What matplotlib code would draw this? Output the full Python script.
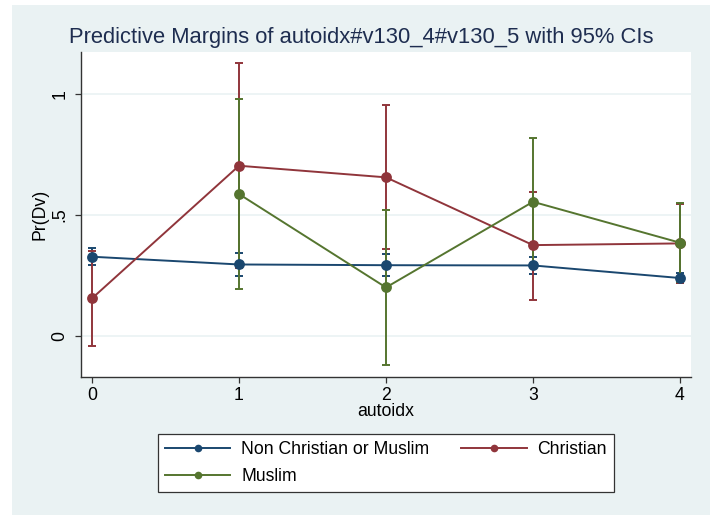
import matplotlib
matplotlib.use("Agg")
import matplotlib.pyplot as plt
from matplotlib.patches import Rectangle
from matplotlib.lines import Line2D

plt.rcParams['font.family'] = ['Liberation Sans', 'DejaVu Sans']

# Predictive margins by autoidx level for each religion group
autoidx = [0, 1, 2, 3, 4]

groups = ["Non Christian or Muslim", "Christian", "Muslim"]

margin_other = [0.328, 0.296, 0.293, 0.292, 0.240]
lower_other = [0.292, 0.249, 0.249, 0.258, 0.219]
upper_other = [0.364, 0.342, 0.338, 0.328, 0.259]

margin_christian = [0.156, 0.704, 0.656, 0.376, 0.383]
lower_christian = [-0.040, 0.281, 0.359, 0.150, 0.218]
upper_christian = [0.352, 1.127, 0.955, 0.596, 0.547]

margin_muslim = [None, 0.587, 0.201, 0.555, 0.386]
lower_muslim = [None, 0.194, -0.119, 0.289, 0.224]
upper_muslim = [None, 0.979, 0.521, 0.820, 0.548]

yticks = [0, 0.5, 1]
ytick_labels = ["0", ".5", "1"]

navy = "#1a476f"
maroon = "#90353b"
forest = "#55752f"
bluish = "#eaf2f3"

W, H = 710, 515
fs = 12.7
fig = plt.figure(figsize=(W / 100, H / 100), dpi=100, facecolor="white")

# graph region background
fig.patches.append(Rectangle((12 / W, 0), (W - 12) / W, (H - 5) / H,
                             transform=fig.transFigure, facecolor=bluish,
                             edgecolor="none", zorder=-10))

ax = fig.add_axes([81 / W, (H - 377) / H, 610 / W, 325 / H])
ax.set_facecolor("white")

series = [
    (margin_other, lower_other, upper_other, navy),
    (margin_christian, lower_christian, upper_christian, maroon),
    (margin_muslim, lower_muslim, upper_muslim, forest),
]

# confidence intervals first, then the margin lines on top
for m, lo, hi, col in series:
    xs = [x for x, v in zip(autoidx, m) if v is not None]
    los = [v for v in lo if v is not None]
    his = [v for v in hi if v is not None]
    ax.vlines(xs, los, his, color=col, linewidth=1.4, zorder=2)
    ax.hlines(los, [x - 0.028 for x in xs], [x + 0.028 for x in xs],
              color=col, linewidth=1.4, zorder=2)
    ax.hlines(his, [x - 0.028 for x in xs], [x + 0.028 for x in xs],
              color=col, linewidth=1.4, zorder=2)

for m, lo, hi, col in series:
    xs = [x for x, v in zip(autoidx, m) if v is not None]
    ms = [v for v in m if v is not None]
    ax.plot(xs, ms, color=col, linewidth=1.4, marker="o", markersize=7.8,
            markeredgewidth=0, zorder=3)

ax.set_xlim(-0.075, 4.075)
ax.set_ylim(-0.169, 1.174)
ax.set_xticks(autoidx)
ax.set_yticks(yticks)
ax.set_yticklabels(ytick_labels, rotation=90, va="center")
ax.grid(axis="y", color=bluish, linewidth=1.2, zorder=0)
ax.set_axisbelow(True)

for s in ("top", "right"):
    ax.spines[s].set_visible(False)
for s in ("left", "bottom"):
    ax.spines[s].set_color("#333333")
    ax.spines[s].set_linewidth(1.0)

ax.tick_params(axis="both", direction="out", length=4, width=0.9,
               color="#333333", labelsize=fs, labelcolor="black")
ax.tick_params(axis="y", pad=5)
ax.tick_params(axis="x", pad=3)

ax.set_xlabel("autoidx", fontsize=fs)
ax.xaxis.set_label_coords(0.5, (377 - 411) / 325)
ax.xaxis.label.set_verticalalignment("center")
ax.set_ylabel("Pr(Dv)", fontsize=fs)
ax.yaxis.set_label_coords((40 - 81) / 610, 0.5)
ax.yaxis.label.set_verticalalignment("center")

fig.text(361 / W, 1 - 37 / H,
         "Predictive Margins of autoidx#v130_4#v130_5 with 95% CIs",
         ha="center", va="center", fontsize=15.8, color="#1e2d50")

handles = [Line2D([], [], color=c, linewidth=1.4, marker="o", markersize=5.5,
                  markeredgewidth=0) for c in (navy, maroon, forest)]
# column-major fill: first column holds entries 0 and 2
order = [0, 2, 1]
leg = fig.legend([handles[i] for i in order], [groups[i] for i in order],
                 loc="lower left",
                 bbox_to_anchor=(158 / W, (H - 492) / H, 456 / W, 58 / H),
                 mode="expand", ncol=2, fontsize=fs, frameon=True,
                 fancybox=False, edgecolor="#333333", facecolor="white",
                 framealpha=1, handlelength=3.7, handletextpad=0.62,
                 labelspacing=0.55, borderpad=0.4, borderaxespad=0,
                 columnspacing=1.0)
leg.get_frame().set_linewidth(0.9)

fig.savefig("out.png", dpi=100, facecolor="white")
